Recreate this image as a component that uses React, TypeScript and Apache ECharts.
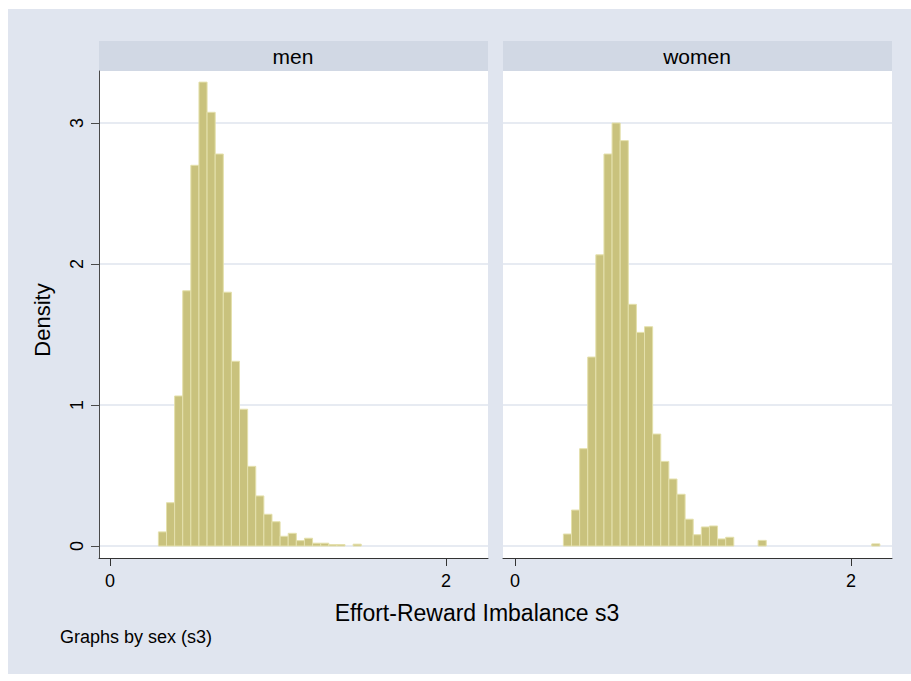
import React, { useEffect, useRef } from "react";
import * as echarts from "echarts";

// Histogram bins (shared across panels, as in Stata's by() histogram)
const binStart = 0.288;
const binWidth = 0.0483;

// Density heights per bin
const menDensity = [
  0.1, 0.307, 1.064, 1.81, 2.7, 3.29, 3.076, 2.78, 1.8, 1.31, 0.97, 0.565, 0.355,
  0.225, 0.172, 0.069, 0.09, 0.038, 0.055, 0.02, 0.02, 0.01, 0.01, 0, 0.013,
];
const womenDensity = [
  0.085, 0.255, 0.69, 1.34, 2.065, 2.78, 3.0, 2.875, 1.714, 1.515, 1.555, 0.794, 0.6,
  0.475, 0.367, 0.19, 0.08, 0.135, 0.142, 0.05, 0.062, 0, 0, 0, 0.04, 0, 0, 0, 0, 0,
  0, 0, 0, 0, 0, 0, 0, 0, 0.015,
];

const panelLabels = ["men", "women"];
const yTicks = [0, 1, 2, 3];
const xTicks = [0, 2];
const xTitle = "Effort-Reward Imbalance s3";
const yTitle = "Density";
const note = "Graphs by sex (s3)";

function toBins(vals: number[]) {
  return vals.map((v, i) => [binStart + i * binWidth, binStart + (i + 1) * binWidth, v]);
}

export default function App() {
  const ref = useRef<HTMLDivElement>(null);
  useEffect(() => {
    if (!ref.current) return;
    const chart = echarts.init(ref.current, null, { renderer: "svg" });
    const font = "Liberation Sans, Arial, sans-serif";
    const barFill = "#C9C27D";
    const barStroke = "#E4E0AC";
    const gridColor = "#DFE4EE";
    const renderItem = (params: any, api: any) => {
      const x0 = api.value(0);
      const x1 = api.value(1);
      const v = api.value(2);
      if (!v) return null;
      const p0 = api.coord([x0, v]);
      const p1 = api.coord([x1, 0]);
      return {
        type: "rect",
        shape: { x: p0[0], y: p0[1], width: p1[0] - p0[0], height: p1[1] - p0[1] },
        style: { fill: barFill, stroke: barStroke, lineWidth: 1 },
      };
    };
    const yMin = -0.0851;
    const yMax = 3.3688;
    const mkY = (idx: number, showAxis: boolean) => ({
      type: "value",
      gridIndex: idx,
      min: yMin,
      max: yMax,
      axisLine: { show: showAxis, onZero: false, lineStyle: { color: "#4a4a4a", width: 1 } },
      axisTick: { show: showAxis, length: 8, customValues: yTicks, lineStyle: { color: "#4a4a4a" } },
      axisLabel: {
        show: showAxis,
        customValues: yTicks,
        rotate: 90,
        fontSize: 18,
        fontFamily: font,
        color: "#000",
        margin: 13,
      },
      splitLine: { show: true, lineStyle: { color: gridColor, width: 1.5 } },
    });
    const mkX = (idx: number, min: number, max: number) => ({
      type: "value",
      gridIndex: idx,
      min,
      max,
      axisLine: { show: true, onZero: false, lineStyle: { color: "#333", width: 1 } },
      axisTick: { show: true, length: 8, customValues: xTicks, lineStyle: { color: "#333" } },
      axisLabel: {
        customValues: xTicks,
        fontSize: 18,
        fontFamily: font,
        color: "#000",
        margin: 14,
      },
      splitLine: { show: false },
    });
    const headerStyle = { fill: "#D1D8E4" };
    chart.setOption({
      animation: false,
      backgroundColor: "#ffffff",
      graphic: [
        { type: "rect", z: -10, shape: { x: 8, y: 9, width: 903, height: 665 }, style: { fill: "#E0E5EF" } },
        { type: "rect", z: -5, shape: { x: 99, y: 41, width: 389, height: 30 }, style: headerStyle },
        { type: "rect", z: -5, shape: { x: 503, y: 41, width: 389, height: 30 }, style: headerStyle },
        {
          type: "text", x: 293, y: 56,
          style: { text: panelLabels[0], fontSize: 21, fontFamily: font, fill: "#000", textAlign: "center", textVerticalAlign: "middle" },
        },
        {
          type: "text", x: 697, y: 56,
          style: { text: panelLabels[1], fontSize: 21, fontFamily: font, fill: "#000", textAlign: "center", textVerticalAlign: "middle" },
        },
        {
          type: "text", x: 477, y: 613,
          style: { text: xTitle, fontSize: 23, fontFamily: font, fill: "#000", textAlign: "center", textVerticalAlign: "middle" },
        },
        {
          type: "text", x: 42, y: 320, rotation: Math.PI / 2,
          style: { text: yTitle, fontSize: 22, fontFamily: font, fill: "#000", textAlign: "center", textVerticalAlign: "middle" },
        },
        {
          type: "text", x: 60, y: 637,
          style: { text: note, fontSize: 18, fontFamily: font, fill: "#000", textAlign: "left", textVerticalAlign: "middle" },
        },
      ],
      grid: [
        { left: 99, top: 71, width: 389, height: 487, show: true, backgroundColor: "#fff", borderWidth: 0 },
        { left: 503, top: 71, width: 389, height: 487, show: true, backgroundColor: "#fff", borderWidth: 0 },
      ],
      xAxis: [mkX(0, -0.0655, 2.25), mkX(1, -0.0714, 2.244)],
      yAxis: [mkY(0, true), mkY(1, false)],
      series: [
        {
          type: "custom",
          name: panelLabels[0],
          xAxisIndex: 0,
          yAxisIndex: 0,
          renderItem,
          encode: { x: [0, 1], y: 2 },
          data: toBins(menDensity),
        },
        {
          type: "custom",
          name: panelLabels[1],
          xAxisIndex: 1,
          yAxisIndex: 1,
          renderItem,
          encode: { x: [0, 1], y: 2 },
          data: toBins(womenDensity),
        },
      ],
    });
    return () => chart.dispose();
  }, []);
  return (
    <div
      ref={ref}
      style={{ position: "absolute", left: 0, top: 0, width: 911, height: 681 }}
    />
  );
}
